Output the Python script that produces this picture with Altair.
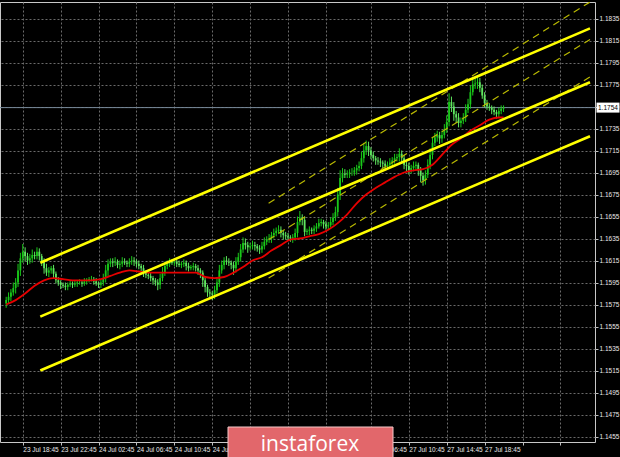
import altair as alt
import pandas as pd

# ---- EURUSD, M15 bars (bar index along x, price along y) ----
closes = [
    1.1579, 1.1582, 1.1586, 1.1590, 1.1595, 1.1606, 1.1617, 1.1623, 1.1619, 1.1615,
    1.1617, 1.1620, 1.1619, 1.1623, 1.1619, 1.1614, 1.1608, 1.1604, 1.1606, 1.1608,
    1.1603, 1.1597, 1.1595, 1.1593, 1.1592, 1.1591, 1.1593, 1.1594, 1.1593, 1.1594,
    1.1595, 1.1595, 1.1594, 1.1596, 1.1597, 1.1598, 1.1598, 1.1596, 1.1594, 1.1593,
    1.1595, 1.1599, 1.1606, 1.1612, 1.1614, 1.1613, 1.1614, 1.1611, 1.1612, 1.1614,
    1.1613, 1.1612, 1.1614, 1.1615, 1.1614, 1.1612, 1.1610, 1.1608, 1.1604, 1.1602,
    1.1601, 1.1599, 1.1597, 1.1595, 1.1593, 1.1599, 1.1604, 1.1610, 1.1612, 1.1614,
    1.1613, 1.1614, 1.1612, 1.1611, 1.1612, 1.1613, 1.1610, 1.1608, 1.1609, 1.1610,
    1.1608, 1.1606, 1.1604, 1.1597, 1.1591, 1.1586, 1.1585, 1.1584, 1.1588, 1.1595,
    1.1606, 1.1611, 1.1615, 1.1614, 1.1613, 1.1611, 1.1608, 1.1614, 1.1618, 1.1625,
    1.1631, 1.1629, 1.1627, 1.1628, 1.1629, 1.1628, 1.1626, 1.1625, 1.1628, 1.1632,
    1.1634, 1.1635, 1.1638, 1.1640, 1.1642, 1.1643, 1.1640, 1.1638, 1.1637, 1.1636,
    1.1635, 1.1636, 1.1640, 1.1650, 1.1654, 1.1652, 1.1641, 1.1642, 1.1643, 1.1642,
    1.1644, 1.1646, 1.1649, 1.1650, 1.1648, 1.1646, 1.1647, 1.1650, 1.1654, 1.1659,
    1.1675, 1.1690, 1.1694, 1.1693, 1.1694, 1.1695, 1.1695, 1.1697, 1.1699, 1.1701,
    1.1708, 1.1715, 1.1719, 1.1715, 1.1711, 1.1708, 1.1706, 1.1705, 1.1704, 1.1703,
    1.1701, 1.1702, 1.1704, 1.1706, 1.1708, 1.1709, 1.1712, 1.1708, 1.1702, 1.1701,
    1.1697, 1.1699, 1.1701, 1.1702, 1.1697, 1.1692, 1.1688, 1.1693, 1.1702, 1.1711,
    1.1722, 1.1727, 1.1729, 1.1726, 1.1729, 1.1734, 1.1741, 1.1759, 1.1755, 1.1748,
    1.1745, 1.1740, 1.1742, 1.1745, 1.1752, 1.1757, 1.1768, 1.1775, 1.1776, 1.1777,
    1.1772, 1.1765, 1.1758, 1.1755, 1.1754, 1.1752, 1.1750, 1.1748, 1.1751, 1.1753,
    1.1754,
]
first_open = 1.1576

# wick lengths above / below the body, in pips
wick_up_pips = [
    3, 4, 3, 5, 4, 6, 5, 7, 4, 3,  4, 5, 3, 4, 3, 2, 3, 4, 3, 2,
    3, 2, 3, 2, 2, 3, 2, 3, 2, 3,  2, 3, 2, 3, 2, 2, 3, 2, 3, 2,
    3, 4, 5, 4, 3, 3, 4, 2, 3, 4,  3, 2, 3, 4, 3, 2, 3, 2, 3, 2,
    2, 3, 2, 2, 3, 4, 5, 4, 3, 3,  2, 3, 2, 3, 2, 3, 2, 3, 2, 3,
    2, 3, 2, 2, 3, 2, 3, 2, 4, 5,  5, 4, 3, 4, 3, 2, 3, 4, 4, 5,
    5, 4, 3, 3, 4, 3, 2, 3, 4, 4,  3, 4, 3, 4, 3, 4, 3, 2, 3, 3,
    2, 3, 4, 5, 6, 3, 3, 2, 3, 2,  3, 3, 4, 3, 2, 3, 3, 4, 4, 5,
    6, 7, 5, 4, 3, 3, 4, 3, 3, 4,  6, 7, 5, 4, 3, 3, 2, 3, 3, 2,
    3, 3, 4, 3, 4, 3, 5, 3, 3, 3,  3, 3, 4, 3, 2, 3, 3, 4, 5, 6,
    5, 4, 4, 3, 4, 5, 6, 8, 5, 4,  3, 4, 3, 4, 5, 5, 6, 5, 6, 5,
    4, 3, 3, 3, 3, 2, 3, 2, 3, 3, 2,
]
wick_dn_pips = [
    4, 3, 4, 3, 5, 4, 5, 4, 5, 4,  3, 4, 3, 3, 4, 4, 5, 3, 4, 3,
    4, 3, 3, 4, 2, 3, 3, 2, 3, 2,  3, 2, 3, 2, 3, 2, 2, 3, 2, 3,
    3, 3, 4, 5, 3, 4, 3, 3, 4, 3,  2, 3, 3, 3, 4, 3, 3, 4, 4, 3,
    3, 3, 4, 3, 5, 4, 3, 3, 3, 3,  2, 3, 3, 2, 3, 3, 4, 3, 2, 3,
    3, 4, 5, 6, 5, 4, 4, 5, 4, 3,  4, 3, 4, 3, 3, 4, 6, 4, 3, 4,
    3, 4, 5, 3, 3, 4, 3, 4, 3, 3,  3, 3, 4, 3, 3, 3, 4, 4, 3, 3,
    3, 4, 3, 4, 3, 5, 4, 3, 4, 3,  3, 3, 2, 3, 4, 3, 3, 2, 3, 3,
    4, 5, 4, 3, 3, 4, 3, 3, 4, 3,  3, 4, 4, 5, 4, 3, 4, 3, 4, 4,
    4, 3, 3, 4, 3, 3, 4, 5, 4, 5,  4, 3, 3, 4, 5, 6, 5, 4, 3, 4,
    4, 3, 4, 5, 4, 3, 3, 4, 5, 6,  5, 4, 4, 3, 4, 3, 4, 3, 4, 5,
    4, 3, 4, 3, 3, 4, 3, 4, 3, 3, 3,
]

# moving average (red)
ma_bars = [0, 4, 8, 12, 16, 20, 24, 28, 32, 36, 40, 44, 48, 52, 56, 60, 64, 68, 72, 76,
           80, 84, 88, 92, 96, 100, 104, 108, 112, 116, 120, 124, 128, 132, 136, 140,
           144, 148, 152, 156, 160, 164, 168, 172, 176, 180, 184, 188, 192, 196, 200,
           204, 208, 210]
ma_values = [1.1575, 1.1579, 1.1585, 1.1592, 1.1597, 1.1599, 1.1598, 1.1597, 1.1597, 1.1597,
             1.1598, 1.1601, 1.1604, 1.1606, 1.1605, 1.1604, 1.1604, 1.1604, 1.1604, 1.1604,
             1.1604, 1.1600, 1.1599, 1.1600, 1.1604, 1.1609, 1.1615, 1.1618, 1.1624, 1.1629,
             1.1634, 1.1635, 1.1637, 1.1639, 1.1643, 1.1649, 1.1657, 1.1667, 1.1675, 1.1681,
             1.1686, 1.1691, 1.1695, 1.1697, 1.1698, 1.1702, 1.1711, 1.1720, 1.1726, 1.1733,
             1.1738, 1.1743, 1.1745, 1.1745]

# trend channel (solid) and regression channel (dashed): start/end bar and price
channel_bars = [14.4, 246.5]
channel_solid = {
    "upper": [1.1613, 1.1826],
    "middle": [1.1564, 1.1777],
    "lower": [1.1515, 1.1728],
}
regression_bars = [110.8, 246.5]
channel_dashed = {
    "upper": [1.1667, 1.1850],
    "middle": [1.1634, 1.1816],
    "lower": [1.1599, 1.1782],
}

bid_price = 1.1754

# axes
price_ticks = [1.1455, 1.1475, 1.1495, 1.1515, 1.1535, 1.1555, 1.1575, 1.1595, 1.1615, 1.1635,
               1.1655, 1.1675, 1.1695, 1.1715, 1.1735, 1.1755, 1.1775, 1.1795, 1.1815, 1.1835]
time_ticks = [-9, 7, 23, 39, 55, 71, 87, 103, 119, 135, 154, 170, 186, 202, 218, 234]
time_labels = ["23 Jul 14:45", "23 Jul 18:45", "23 Jul 22:45", "24 Jul 02:45", "24 Jul 06:45",
               "24 Jul 10:45", "24 Jul 14:45", "", "", "",
               "27 Jul 06:45", "27 Jul 10:45", "27 Jul 14:45", "27 Jul 18:45", "", ""]

# ---- tables ----
opens = [first_open] + closes[:-1]
bars = pd.DataFrame({
    "bar": list(range(len(closes))),
    "open": opens,
    "close": closes,
})
bars["high"] = [max(o, c) + w * 0.0001 for o, c, w in zip(opens, closes, wick_up_pips)]
bars["low"] = [min(o, c) - w * 0.0001 for o, c, w in zip(opens, closes, wick_dn_pips)]
bars["dir"] = ["up" if c >= o else "down" for o, c in zip(opens, closes)]

ma = pd.DataFrame({"bar": ma_bars, "ma": ma_values})

solid = pd.DataFrame([{"line": k, "bar": b, "price": p}
                      for k, v in channel_solid.items() for b, p in zip(channel_bars, v)])
dashed = pd.DataFrame([{"line": k, "bar": b, "price": p}
                       for k, v in channel_dashed.items() for b, p in zip(regression_bars, v)])
bid = pd.DataFrame({"price": [bid_price], "label": [f"{bid_price:.4f}"]})

label_expr = (
    "[" + ",".join(f"'{t}'" for t in time_labels) + "]"
    "[indexof([" + ",".join(str(t) for t in time_ticks) + "], datum.value)]"
)

x_scale = alt.Scale(domain=[-0.5, 246.5], nice=False, zero=False)
y_scale = alt.Scale(domain=[1.1450, 1.1850], nice=False, zero=False)

font = "Liberation Sans"
candle_colors = alt.Scale(domain=["up", "down"], range=["#19c819", "#5fe65f"])

x_axis = alt.Axis(values=time_ticks, labelExpr=label_expr, orient="bottom", title=None)
y_axis = alt.Axis(values=price_ticks, format=".4f", orient="right", title=None)

X = alt.X("bar:Q", scale=x_scale, axis=x_axis)


def Y(field):
    return alt.Y(field, scale=y_scale, axis=y_axis)


# grid + axes carrier
axes_layer = alt.Chart(bars).mark_point(opacity=0).encode(x=X, y=Y("close:Q"))

bid_line = alt.Chart(bid).mark_rule(color="#778899", strokeWidth=1).encode(
    y=Y("price:Q"),
)

wicks = alt.Chart(bars).mark_rule(strokeWidth=1).encode(
    x=X,
    y=Y("low:Q"),
    y2="high:Q",
    color=alt.Color("dir:N", scale=candle_colors, legend=None),
)
bodies = alt.Chart(bars).mark_bar(width=1.8).encode(
    x=X,
    y=Y("open:Q"),
    y2="close:Q",
    color=alt.Color("dir:N", scale=candle_colors, legend=None),
)

ma_line = alt.Chart(ma).mark_line(color="#e60000", strokeWidth=1.8, interpolate="monotone").encode(
    x=X, y=Y("ma:Q"),
)

dashed_lines = alt.Chart(dashed).mark_line(
    color="#b9b900", strokeWidth=1.2, strokeDash=[7, 5], clip=True
).encode(x=X, y=Y("price:Q"), detail="line:N")

solid_lines = alt.Chart(solid).mark_line(color="#ffff00", strokeWidth=2.6, clip=True).encode(
    x=X, y=Y("price:Q"), detail="line:N",
)

# current price tag on the price scale
bid_box = alt.Chart(bid).mark_tick(
    orient="horizontal", color="white", thickness=10, size=23, opacity=1
).encode(x=alt.value(608), y=Y("price:Q"))
bid_text = alt.Chart(bid).mark_text(
    align="left", baseline="middle", fontSize=6.5, font=font, color="black"
).encode(x=alt.value(598), y=Y("price:Q"), text="label:N")

# watermark
logo_data = pd.DataFrame({"name": ["instaforex"]})
logo_box = alt.Chart(logo_data).mark_rect(
    color="#e2676b", stroke="#f4c9ca", strokeWidth=1
).encode(
    x=alt.value(228), x2=alt.value(393), y=alt.value(425), y2=alt.value(460),
)
logo_text = alt.Chart(logo_data).mark_text(
    align="center", baseline="alphabetic", fontSize=21, font="Open Sans", color="white"
).encode(
    x=alt.value(310), y=alt.value(449), text="name:N",
)

chart = alt.layer(
    axes_layer, bid_line, wicks, bodies, ma_line, dashed_lines, solid_lines,
    bid_box, bid_text, logo_box, logo_text,
).properties(
    width=595, height=440,
    padding={"left": 0, "top": 2, "right": 25, "bottom": 15},
    autosize=alt.AutoSizeParams(type="none"),
    background="black",
).configure_view(
    stroke="#c8c8c8", strokeWidth=1, fill="black",
).configure_axis(
    grid=True, gridColor="#6a6a6a", gridDash=[2, 2], gridWidth=1,
    domain=False, ticks=True, tickSize=3, tickColor="#c0c0c0",
    labelAlign="left", labelPadding=1, labelFontSize=6.5, labelFont=font,
    labelColor="#e8e8e8", labelOverlap=False, labelFlush=False, labelBound=False,
    zindex=0,
)

chart.save("out.html", embed_options={"renderer": "svg", "actions": False})
